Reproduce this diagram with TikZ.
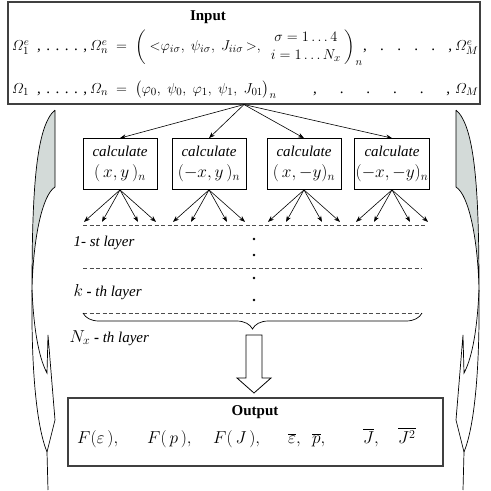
\documentclass[tikz,border=0pt]{standalone}
\usepackage{amsmath}
\usepackage{fontspec}
\setmainfont{Liberation Serif}
\usetikzlibrary{arrows.meta,positioning,decorations.pathreplacing}

\definecolor{ribbongray}{RGB}{211,218,216}

% curved side ribbon (left one, the right one is mirrored)
\newcommand{\sideribbon}{%
  \draw[line width=0.7pt, fill=ribbongray] (55,110) -- (55,187)
    .. controls (42,195) and (33,240) .. (32,290)
    .. controls (32,190) and (36,126) .. (55,110);
  \draw[line width=0.7pt] (32,290) .. controls (31,380) and (38,430) .. (47,452) -- (48,490);
  \draw[line width=0.7pt] (32,290) .. controls (34,335) and (40,360) .. (47,373)
    -- (48,335) -- (55,420) -- (47,452);
}
% ", . . . . ," spread over a given width
\newcommand{\dotrun}[1]{\makebox[#1][s]{,\hfill.\hfill.\hfill.\hfill.\hfill,}}
\newcommand{\bigmath}{\fontsize{17}{20}\selectfont}

\begin{document}
\begin{tikzpicture}[x=1pt, y=-1pt,
    font=\fontsize{15}{18}\selectfont,
    panel/.style={draw=black!75, line width=1.1pt},
    calcbox/.style={draw, line width=0.8pt, minimum width=74pt, minimum height=51pt,
                    align=center, inner sep=1pt, font=\fontsize{15}{21}\selectfont\itshape},
    arrow/.style={-{Stealth[length=6pt, width=4.5pt]}, line width=0.6pt},
    layer/.style={dash pattern=on 4pt off 2.5pt, line width=0.9pt, draw=black!70},
    label/.style={anchor=west, font=\fontsize{15}{18}\selectfont\itshape},
    title/.style={font=\fontsize{15}{18}\selectfont\bfseries},
    formula/.style={anchor=west, inner sep=0pt, font=\fontsize{15}{18}\selectfont},
    dot/.style={circle, fill, inner sep=0pt, minimum size=2.8pt}
]
\useasboundingbox (0,0) rectangle (491,491);

% side ribbons
\sideribbon
\begin{scope}[xshift=511pt, xscale=-1]
  \sideribbon
\end{scope}

% input block
\node[panel, minimum width=472pt, minimum height=102pt] (input) at (244,53) {};
\node[title] (intitle) at (208,17) {Input};
\node[formula] (row1) at (12,47)
  {\makebox[25pt][l]{$\varOmega^{e}_{1}$}\dotrun{50pt}\hspace{3pt}%
   \makebox[273pt][l]{$\varOmega^{e}_{n}\;=\;
    \left(\;{<}\varphi_{i\sigma},\ \psi_{i\sigma},\ J_{ii\sigma}\,{>},\ \
    \begin{matrix}\sigma = 1\ldots 4\\ i = 1\ldots N_{x}\end{matrix}\;\right)_{n}$}%
   \dotrun{89pt}\hspace{3pt}$\varOmega^{e}_{M}$};
\node[formula] (row2) at (12,90)
  {\makebox[25pt][l]{$\varOmega_{1}$}\dotrun{50pt}\hspace{3pt}%
   \makebox[223pt][l]{$\varOmega_{n}\;=\;
    \bigl(\varphi_{0},\;\psi_{0},\;\varphi_{1},\;\psi_{1},\;J_{01}\bigr)_{n}$}%
   \dotrun{137pt}\hspace{5pt}$\varOmega_{M}$};

% four calculation boxes
\node[calcbox] (calc1) at (120,164) {calculate\\\bigmath$(\,x, y\,)_{n}$};
\node[calcbox] (calc2) at (209,164) {calculate\\\bigmath$(-x, y\,)_{n}$};
\node[calcbox] (calc3) at (304,164) {calculate\\\bigmath$(\,x,-y)_{n}$};
\node[calcbox] (calc4) at (392,164) {calculate\\\bigmath$(-x,-y)_{n}$};

\foreach \i in {1,...,4}
  \draw[arrow] (input.south) -- (calc\i.north);

\foreach \i in {1,...,4}
  \foreach \dx [count=\j] in {-36,-18,18,36} {
    \path (calc\i.south) ++(\dx,32) coordinate (tip\i\j);
    \draw[arrow] (calc\i.south) -- (tip\i\j);
  }

% layers
\draw[layer] (83,225) -- (425,225);
\draw[layer] (83,268) -- (422,268);
\draw[layer] (83,313) -- (422,313);
\foreach \y in {239,255,278,300}
  \node[dot] (dot\y) at (254,\y) {};

\node[label] (first) at (70,243) {1- st layer};
\node[label] (kth) at (70,292) {{\bigmath$k$} {\upshape\bfseries -} th layer};
\node[label] (nth) at (66,338) {{\bigmath$N_{x}$} {\upshape\bfseries -} th layer};

\draw[decorate, decoration={brace, amplitude=16pt}, line width=0.7pt] (422,313) -- (83,313);

% block arrow to the output
\draw[line width=0.8pt, fill=white] (246,335) -- (262,335) -- (262,378) -- (271,378)
  -- (254,393) -- (237,378) -- (246,378) -- cycle;

% output block
\node[panel, minimum width=375pt, minimum height=68pt] (output) at (255.5,432) {};
\node[title] (outtitle) at (255,412) {Output};
\node[formula, font=\fontsize{18}{20}\selectfont] (outrow) at (77,438)
  {\makebox[70pt][l]{$F(\varepsilon\,),$}\makebox[66pt][l]{$F(\,p\,),$}%
   \makebox[75pt][l]{$F(\,J\,),$}\makebox[24pt][l]{$\overline{\varepsilon},$}%
   \makebox[51pt][l]{$\overline{p},$}\makebox[35pt][l]{$\overline{J},$}$\overline{J^{2}}$};
\end{tikzpicture}
\end{document}
